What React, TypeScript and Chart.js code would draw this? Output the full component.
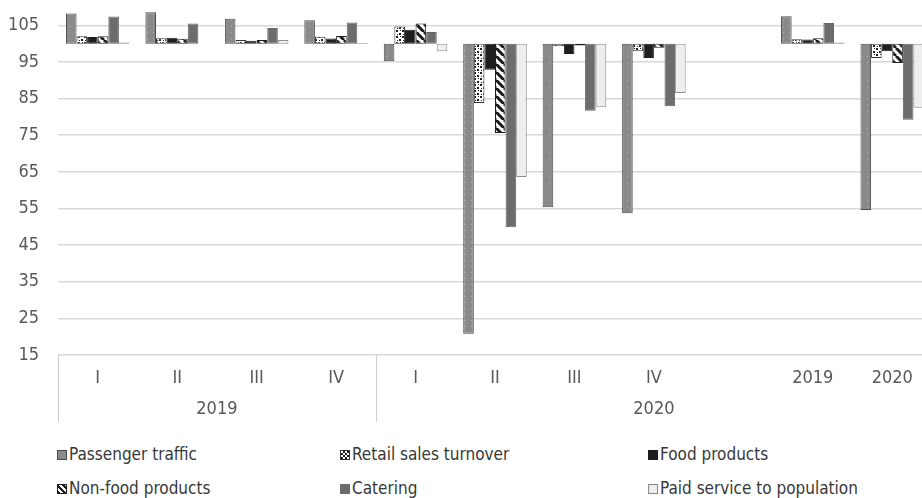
import React, { useEffect, useRef } from "react";
import { Chart, registerables } from "chart.js";

Chart.register(...registerables);

const categories = ["I", "II", "III", "IV", "I", "II", "III", "IV", "", "2019", "2020"];
const groupLabels = ["2019", "2020"];
const groupSpans = [4, 7];
const yTicks = [15, 25, 35, 45, 55, 65, 75, 85, 95, 105];
const baseValue = 100;

const seriesNames = [
  "Passenger traffic",
  "Retail sales turnover",
  "Food products",
  "Non-food products",
  "Catering",
  "Paid service to population",
];
const passenger = [108.2, 108.6, 106.8, 106.4, 95.2, 20.8, 55.3, 53.7, null, 107.5, 54.6];
const retail = [102.0, 101.5, 101.0, 101.9, 104.7, 83.8, 99.3, 97.9, null, 101.2, 96.1];
const food = [101.8, 101.6, 100.8, 101.4, 103.8, 92.9, 97.2, 96.1, null, 101.1, 97.9];
const nonFood = [102.0, 101.3, 101.0, 102.1, 105.5, 75.6, 99.5, 98.9, null, 101.5, 94.7];
const catering = [107.4, 105.5, 104.3, 105.8, 103.2, 49.9, 81.7, 82.9, null, 105.6, 79.2];
const paid = [100.3, 100.0, 101.0, 100.2, 97.9, 63.6, 82.6, 86.5, null, 100.3, 82.5];

const FONT = "'DejaVu Sans Condensed', 'Liberation Sans', Arial, sans-serif";
const TEXT = "#595959";

function makePattern(kind: string): CanvasPattern | string {
  const c = document.createElement("canvas");
  const ctx = c.getContext("2d");
  if (!ctx) return "#888";
  if (kind === "passenger") {
    c.width = 6; c.height = 6;
    ctx.fillStyle = "#8a8a8a"; ctx.fillRect(0, 0, 6, 6);
    ctx.fillStyle = "#b0b0b0"; ctx.fillRect(3, 2, 1, 1);
  } else if (kind === "retail") {
    c.width = 6; c.height = 6;
    ctx.fillStyle = "#ffffff"; ctx.fillRect(0, 0, 6, 6);
    ctx.fillStyle = "#1e1e1e";
    ctx.fillRect(0, 0, 2, 2);
    ctx.fillRect(3, 3, 2, 2);
    ctx.fillRect(4, 0, 1, 1);
    ctx.fillRect(1, 4, 1, 1);
  } else if (kind === "stripe") {
    c.width = 8; c.height = 8;
    ctx.fillStyle = "#ffffff"; ctx.fillRect(0, 0, 8, 8);
    ctx.strokeStyle = "#1a1a1a"; ctx.lineWidth = 3;
    for (const o of [-8, 0, 8]) {
      ctx.beginPath(); ctx.moveTo(o, 0); ctx.lineTo(o + 8, 8); ctx.stroke();
    }
  }
  const p = ctx.createPattern(c, "repeat");
  return p || "#888";
}

const groupPlugin = {
  id: "groupAxis",
  afterDraw(chart: any) {
    const { ctx, chartArea, scales } = chart;
    const x = scales.x;
    const slot = (chartArea.right - chartArea.left) / categories.length;
    const top = chartArea.bottom;
    const bottom = chartArea.bottom + 67;
    ctx.save();
    ctx.strokeStyle = "#cfcfcf";
    ctx.lineWidth = 1.2;
    let start = 0;
    const edges = [0];
    groupSpans.forEach((n) => { start += n; edges.push(start); });
    edges.forEach((e) => {
      const px = Math.round(chartArea.left + e * slot) + 0.5;
      ctx.beginPath(); ctx.moveTo(px, top); ctx.lineTo(px, bottom); ctx.stroke();
    });
    ctx.fillStyle = TEXT;
    ctx.font = `18px ${FONT}`;
    ctx.textAlign = "center";
    ctx.textBaseline = "middle";
    groupLabels.forEach((g, i) => {
      const l = x.getPixelForValue(edges[i]) - slot / 2;
      const r = x.getPixelForValue(edges[i + 1] - 1) + slot / 2;
      ctx.fillText(g, (l + r) / 2, chartArea.bottom + 54);
    });
    ctx.restore();
  },
};

const legendSwatch: Record<string, React.CSSProperties> = {
  "Passenger traffic": { background: "#8a8a8a", border: "1px solid #4a4a4a" },
  "Retail sales turnover": {
    background: "repeating-conic-gradient(#1e1e1e 0 25%, #ffffff 0 50%) 0 0 / 4px 4px",
    border: "1px solid #333",
  },
  "Food products": { background: "#1e1e1e", border: "1px solid #1e1e1e" },
  "Non-food products": {
    background: "repeating-linear-gradient(45deg, #1e1e1e 0 2px, #ffffff 2px 4px)",
    border: "1px solid #1e1e1e",
  },
  Catering: { background: "#6c6c6c", border: "1px solid #6c6c6c" },
  "Paid service to population": { background: "#eeeeee", border: "1px solid #8a8a8a" },
};

export default function App() {
  const ref = useRef<HTMLCanvasElement>(null);
  useEffect(() => {
    if (!ref.current) return;
    const styles = [
      { bg: makePattern("passenger"), border: "#4a4a4a", bw: 1 },
      { bg: makePattern("retail"), border: "#333333", bw: 1 },
      { bg: "#1e1e1e", border: "#1e1e1e", bw: 1 },
      { bg: makePattern("stripe"), border: "#1e1e1e", bw: 1 },
      { bg: "#6c6c6c", border: "#666666", bw: 1 },
      { bg: "#eeeeee", border: "#8f8f8f", bw: 1 },
    ];
    const values = [passenger, retail, food, nonFood, catering, paid];
    const chart = new Chart(ref.current, {
      type: "bar",
      data: {
        labels: categories,
        datasets: values.map((v, i) => ({
          label: seriesNames[i],
          data: v as any,
          base: baseValue,
          backgroundColor: styles[i].bg as any,
          borderColor: styles[i].border,
          borderWidth: styles[i].bw,
          borderSkipped: false,
          categoryPercentage: 0.8,
          barPercentage: 1.0,
        })),
      },
      options: {
        animation: false,
        responsive: false,
        layout: { padding: { top: 7, right: 0, left: 0, bottom: 0 } },
        plugins: { legend: { display: false }, tooltip: { enabled: false } },
        scales: {
          x: {
            grid: { display: false, drawTicks: false },
            border: { display: false },
            ticks: { color: TEXT, font: { family: FONT, size: 18 }, padding: 13, maxRotation: 0, autoSkip: false },
            afterFit: (s: any) => { s.height = 75; s.paddingLeft = 0; s.paddingRight = 0; },
          },
          y: {
            min: 15,
            max: 110,
            afterBuildTicks: (s: any) => { s.ticks = yTicks.map((v) => ({ value: v })); },
            grid: { color: "#d9d9d9", lineWidth: 1.5, drawTicks: false },
            border: { display: false },
            ticks: { color: TEXT, font: { family: FONT, size: 18 }, padding: 19 },
            afterFit: (s: any) => { s.width = 58; s.paddingTop = 0; s.paddingBottom = 0; },
          },
        },
      },
      plugins: [groupPlugin],
    });
    return () => chart.destroy();
  }, []);

  const cols = [57, 340, 648];
  const rows = [443, 477];
  return (
    <div style={{ position: "absolute", left: 0, top: 0, width: 922, height: 498, overflow: "hidden", background: "#fff" }}>
      <canvas ref={ref} width={932} height={430} style={{ position: "absolute", left: 0, top: 0 }} />
      {seriesNames.map((name, i) => (
        <div
          key={name}
          style={{
            position: "absolute",
            left: cols[i % 3],
            top: rows[Math.floor(i / 3)],
            display: "flex",
            alignItems: "center",
            fontFamily: FONT,
            fontSize: 17,
            lineHeight: "22px",
            color: "#383838",
            whiteSpace: "nowrap",
          }}
        >
          <span style={{ display: "inline-block", width: 8, height: 8, marginRight: 2, marginTop: 2, ...legendSwatch[name] }} />
          {name}
        </div>
      ))}
    </div>
  );
}
